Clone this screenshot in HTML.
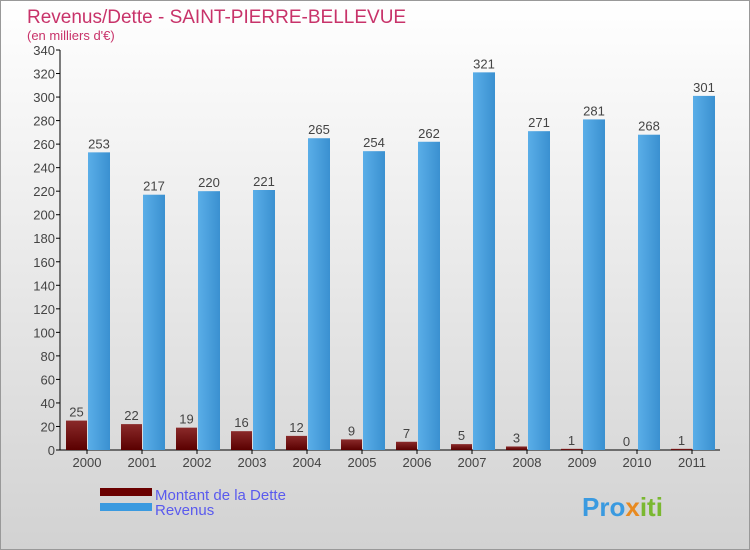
<!DOCTYPE html>
<html><head><meta charset="utf-8"><style>
body{margin:0}
svg{display:block;font-family:"Liberation Sans",sans-serif}
</style></head><body>
<svg width="750" height="550" xmlns="http://www.w3.org/2000/svg">
<defs>
<linearGradient id="bg" x1="0" y1="0" x2="0" y2="1"><stop offset="0" stop-color="#ffffff"/><stop offset="1" stop-color="#d2d2d2"/></linearGradient>
<linearGradient id="gd" x1="0" y1="0" x2="0" y2="1"><stop offset="0" stop-color="#8a2a2a"/><stop offset="1" stop-color="#5a0000"/></linearGradient>
<linearGradient id="gr" x1="0" y1="0" x2="1" y2="0"><stop offset="0" stop-color="#5aaee8"/><stop offset="1" stop-color="#3a90d0"/></linearGradient>
</defs>
<rect x="0.5" y="0.5" width="749" height="549" fill="url(#bg)" stroke="#999"/>
<text x="27" y="23" font-size="19" fill="#c8336a">Revenus/Dette - SAINT-PIERRE-BELLEVUE</text>
<text x="27" y="40" font-size="13" fill="#c8336a">(en milliers d'€)</text>
<g id="axes"></g>
<g id="bars"></g>
<rect x="100" y="488" width="52" height="8" fill="#6a0000"/>
<rect x="100" y="503" width="52" height="8" fill="#3a9ae0"/>
<text x="155" y="500" font-size="15" fill="#5a5aee">Montant de la Dette</text>
<text x="155" y="515" font-size="15" fill="#5a5aee">Revenus</text>
<text x="582" y="516" font-size="26" font-weight="bold" fill="#3a9ae0">Pro<tspan fill="#e88a20">x</tspan><tspan fill="#7ab830">iti</tspan></text>
</svg>
<script>
const years=["2000","2001","2002","2003","2004","2005","2006","2007","2008","2009","2010","2011"];
const dette=[25,22,19,16,12,9,7,5,3,1,0,1];
const revenus=[253,217,220,221,265,254,262,321,271,281,268,301];
const ticks=[0,20,40,60,80,100,120,140,160,180,200,220,240,260,280,300,320,340];
const NS="http://www.w3.org/2000/svg";
const x0=60,gw=55,y0=450,ymax=340,ph=400;
const y=v=>y0-v/ymax*ph;
function mk(t,a,p,txt){const e=document.createElementNS(NS,t);for(const k in a)e.setAttribute(k,a[k]);if(txt!==undefined)e.textContent=txt;p.appendChild(e);return e;}
const ax=document.getElementById('axes'),bs=document.getElementById('bars');
ticks.forEach(t=>{
 const l=mk('line',{x1:x0-4,x2:x0,y1:y(t),y2:y(t),stroke:'#000'},ax);
 
 
 const tx=mk('text',{x:x0-5,y:y(t)+5,'text-anchor':'end','font-size':13,fill:'#444'},ax,t);
 
 
});
const va=mk('line',{x1:x0,x2:x0,y1:y(ymax),y2:y0,stroke:'#000'},ax);


const ha=mk('line',{x1:x0,x2:x0+gw*years.length,y1:y0,y2:y0,stroke:'#000'},ax);


years.forEach((yr,i)=>{
 const g=x0+i*gw;
 const c=g+27;
 const tk=mk('line',{x1:c,x2:c,y1:y0,y2:y0+4,stroke:'#000'},ax);
 
 
 const lt=mk('text',{x:c,y:y0+17,'text-anchor':'middle','font-size':13,fill:'#444'},ax,yr);
 
 
 const d=mk('rect',{x:g+6,y:y(dette[i]),width:21,height:y0-y(dette[i]),fill:'url(#gd)'},bs);
 
 
 const dl=mk('text',{x:g+16.5,y:y(dette[i])-4,'text-anchor':'middle','font-size':13,fill:'#444'},bs,dette[i]);
 
 
 const r=mk('rect',{x:g+28,y:y(revenus[i]),width:22,height:y0-y(revenus[i]),fill:'url(#gr)'},bs);
 
 
 const rl=mk('text',{x:g+39,y:y(revenus[i])-4,'text-anchor':'middle','font-size':13,fill:'#444'},bs,revenus[i]);
 
 
});
</script>
</body></html>
